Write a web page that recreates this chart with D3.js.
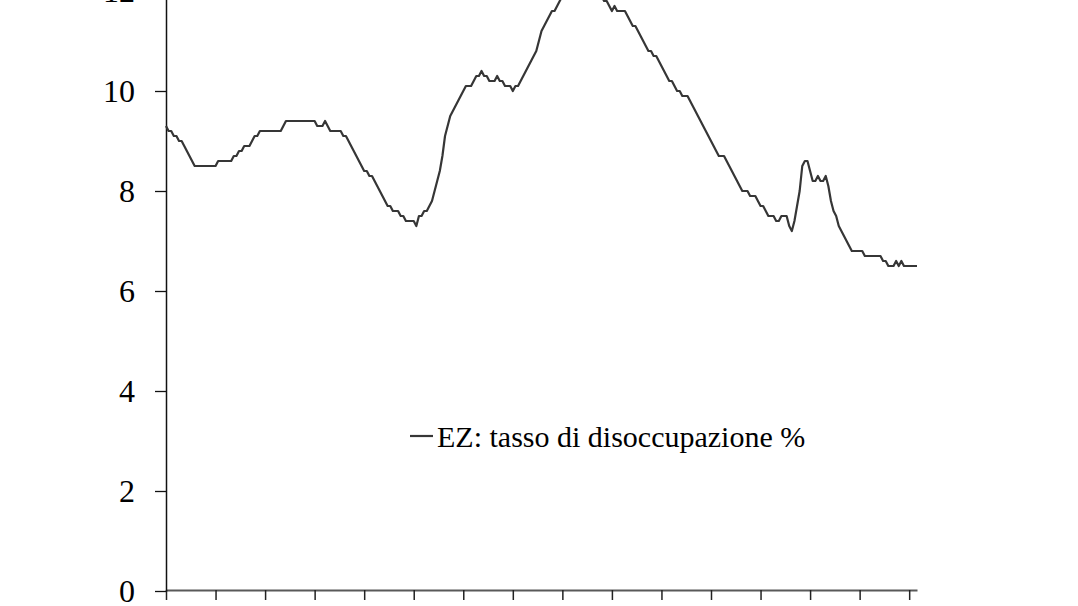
<!DOCTYPE html>
<html>
<head>
<meta charset="utf-8">
<script src="https://cdn.jsdelivr.net/npm/d3@7"></script>
<style>
  html, body { margin: 0; padding: 0; background: #fff; overflow: hidden; }
  .chart { width: 1078px; height: 606px; }
</style>
</head>
<body>
<div class="chart"></div>
<script>
// Series: EZ unemployment rate, monthly, first month below
const startMonth = new Date(2000, 2, 1);
const unemployment = [
  9.3, 9.2, 9.2, 9.1, 9.1, 9.0, 9.0, 8.9, 8.8, 8.7, 8.6, 8.5,
  8.5, 8.5, 8.5, 8.5, 8.5, 8.5, 8.5, 8.5, 8.6, 8.6, 8.6, 8.6,
  8.6, 8.6, 8.7, 8.7, 8.8, 8.8, 8.9, 8.9, 8.9, 9.0, 9.1, 9.1,
  9.2, 9.2, 9.2, 9.2, 9.2, 9.2, 9.2, 9.2, 9.2, 9.3, 9.4, 9.4,
  9.4, 9.4, 9.4, 9.4, 9.4, 9.4, 9.4, 9.4, 9.4, 9.4, 9.3, 9.3,
  9.3, 9.4, 9.3, 9.2, 9.2, 9.2, 9.2, 9.2, 9.1, 9.1, 9.0, 8.9,
  8.8, 8.7, 8.6, 8.5, 8.4, 8.4, 8.3, 8.3, 8.2, 8.1, 8.0, 7.9,
  7.8, 7.7, 7.7, 7.6, 7.6, 7.6, 7.5, 7.5, 7.4, 7.4, 7.4, 7.4,
  7.3, 7.5, 7.5, 7.6, 7.6, 7.7, 7.8, 8.0, 8.2, 8.4, 8.7, 9.1,
  9.3, 9.5, 9.6, 9.7, 9.8, 9.9, 10.0, 10.1, 10.1, 10.1, 10.2, 10.3,
  10.3, 10.4, 10.3, 10.3, 10.2, 10.2, 10.2, 10.3, 10.2, 10.2, 10.1, 10.1,
  10.1, 10.0, 10.1, 10.1, 10.2, 10.3, 10.4, 10.5, 10.6, 10.7, 10.8, 11.0,
  11.2, 11.3, 11.4, 11.5, 11.6, 11.6, 11.7, 11.8, 11.9, 12.0, 12.0, 12.1,
  12.1, 12.2, 12.2, 12.2, 12.2, 12.1, 12.1, 12.1, 12.0, 12.0, 12.0, 11.9,
  11.8, 11.8, 11.7, 11.6, 11.7, 11.6, 11.6, 11.6, 11.6, 11.5, 11.4, 11.3,
  11.3, 11.2, 11.1, 11.0, 10.9, 10.8, 10.8, 10.7, 10.7, 10.6, 10.5, 10.4,
  10.3, 10.2, 10.2, 10.1, 10.0, 10.0, 9.9, 9.9, 9.9, 9.8, 9.7, 9.6,
  9.5, 9.4, 9.3, 9.2, 9.1, 9.0, 8.9, 8.8, 8.7, 8.7, 8.7, 8.6,
  8.5, 8.4, 8.3, 8.2, 8.1, 8.0, 8.0, 8.0, 7.9, 7.9, 7.9, 7.8,
  7.7, 7.7, 7.6, 7.5, 7.5, 7.5, 7.4, 7.4, 7.5, 7.5, 7.5, 7.3,
  7.2, 7.4, 7.7, 8.0, 8.5, 8.6, 8.6, 8.4, 8.2, 8.2, 8.3, 8.2,
  8.2, 8.3, 8.1, 7.8, 7.6, 7.5, 7.3, 7.2, 7.1, 7.0, 6.9, 6.8,
  6.8, 6.8, 6.8, 6.8, 6.7, 6.7, 6.7, 6.7, 6.7, 6.7, 6.7, 6.6,
  6.6, 6.5, 6.5, 6.5, 6.6, 6.5, 6.6, 6.5, 6.5, 6.5, 6.5, 6.5,
  6.5
];
const yTicks = [0, 2, 4, 6, 8, 10, 12, 14];
const xTickEvery = 19; // months between x-axis tick marks
const legendLabel = "EZ: tasso di disoccupazione %";

// Build month list from the start month
const months = unemployment.map((v, i) => d3.timeMonth.offset(startMonth, i));
const data = unemployment.map((v, i) => ({ date: months[i], index: i, value: v }));

const svg = d3.select(".chart")
  .append("svg")
  .attr("width", 1078)
  .attr("height", 606);

// Scales
const xScale = d3.scaleLinear()
  .domain([0, unemployment.length - 1])
  .range([166, 917]);
const yScale = d3.scaleLinear()
  .domain([0, 14])
  .range([591, -109]);

// x axis: unlabelled tick marks
const xTickValues = d3.range(0, unemployment.length, xTickEvery);
const xAxis = d3.axisBottom(xScale)
  .tickValues(xTickValues)
  .tickSize(10)
  .tickSizeOuter(0)
  .tickFormat("");

svg.append("g")
  .attr("class", "x-axis")
  .attr("transform", "translate(0,590)")
  .call(xAxis)
  .call(g => g.select(".domain").attr("stroke", "#595959").attr("stroke-width", 2))
  .call(g => g.selectAll(".tick line").attr("stroke", "#222").attr("stroke-width", 1.5));

// y axis
const yAxis = d3.axisLeft(yScale)
  .tickValues(yTicks)
  .tickSize(11)
  .tickSizeOuter(0)
  .tickPadding(20)
  .tickFormat(d3.format("d"));

svg.append("g")
  .attr("class", "y-axis")
  .attr("transform", "translate(166,0)")
  .call(yAxis)
  .call(g => g.select(".domain").attr("stroke", "#111").attr("stroke-width", 1.5))
  .call(g => g.selectAll(".tick line").attr("stroke", "#111").attr("stroke-width", 1.3))
  .call(g => g.selectAll(".tick text")
    .attr("fill", "#000")
    .style("font-family", "'Liberation Serif', 'Times New Roman', serif")
    .style("font-size", "32px"));

// Line
const line = d3.line()
  .x(d => xScale(d.index))
  .y(d => yScale(d.value));

svg.append("path")
  .datum(data)
  .attr("fill", "none")
  .attr("stroke", "#363636")
  .attr("stroke-width", 2.2)
  .attr("stroke-linejoin", "round")
  .attr("d", line);

// Legend
const legend = svg.append("g").attr("transform", "translate(410,436)");
legend.append("line")
  .attr("x1", 0).attr("x2", 23)
  .attr("y1", 0).attr("y2", 0)
  .attr("stroke", "#363636")
  .attr("stroke-width", 2.2);
legend.append("text")
  .attr("x", 27)
  .attr("y", 11)
  .style("font-family", "'Liberation Serif', 'Times New Roman', serif")
  .style("font-size", "30px")
  .attr("fill", "#000")
  .text(legendLabel);
</script>
</body>
</html>
